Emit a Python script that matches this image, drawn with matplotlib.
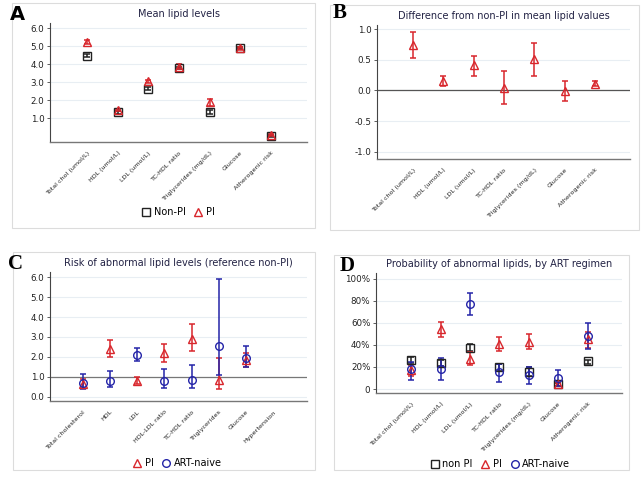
import numpy as np
import matplotlib
matplotlib.use("Agg")
import matplotlib.pyplot as plt
from matplotlib.patches import Rectangle

W, H = 644, 480

BLACK = "#222222"
RED = "#d8262c"
BLUE = "#2424a8"

# ---- panel A: mean lipid levels
a_cats = ["Total chol (umol/L)", "HDL (umol/L)", "LDL (umol/L)", "TC-HDL ratio",
          "Triglycerides (mg/dL)", "Glucose", "Atherogenic risk"]
a_nonpi = [4.47, 1.31, 2.63, 3.78, 1.33, 4.88, 0.0]
a_nonpi_lo = [4.38, 1.24, 2.56, 3.70, 1.24, 4.82, -0.05]
a_nonpi_hi = [4.56, 1.38, 2.70, 3.86, 1.42, 4.94, 0.05]
a_pi = [5.22, 1.45, 3.05, 3.82, 1.87, 4.88, 0.08]
a_pi_lo = [5.12, 1.38, 2.96, 3.70, 1.65, 4.80, 0.02]
a_pi_hi = [5.32, 1.52, 3.14, 4.02, 2.08, 4.96, 0.14]

# ---- panel B: difference from non-PI
b_diff = [0.75, 0.16, 0.41, 0.04, 0.51, -0.01, 0.11]
b_lo = [0.53, 0.07, 0.24, -0.22, 0.24, -0.17, 0.07]
b_hi = [0.95, 0.23, 0.56, 0.32, 0.78, 0.155, 0.16]

# ---- panel C: risk of abnormal lipid levels
c_cats = ["Total cholesterol", "HDL", "LDL", "HDL-LDL ratio", "TC-HDL ratio",
          "Triglycerides", "Glucose", "Hypertension"]
c_pi = [0.64, 2.38, 0.80, 2.18, 2.90, 0.85, 1.85, np.nan]
c_pi_lo = [0.42, 1.98, 0.62, 1.73, 2.31, 0.37, 1.47, np.nan]
c_pi_hi = [0.90, 2.85, 0.97, 2.65, 3.65, 1.95, 2.18, np.nan]
c_naive = [0.70, 0.77, 2.09, 0.77, 0.84, 2.56, 1.93, np.nan]
c_naive_lo = [0.39, 0.47, 1.79, 0.42, 0.42, 1.09, 1.49, np.nan]
c_naive_hi = [1.12, 1.31, 2.43, 1.40, 1.61, 5.93, 2.55, np.nan]

# ---- panel D: probability of abnormal lipids (%)
d_nonpi = [26.5, 23.5, 37.5, 19.5, 15.5, 4.3, 25.0]
d_nonpi_lo = [24.0, 21.0, 34.3, 16.4, 11.9, 2.7, 22.8]
d_nonpi_hi = [29.0, 26.0, 40.7, 23.0, 19.5, 5.8, 26.7]
d_pi = [17.0, 54.0, 27.5, 40.7, 42.9, 4.3, 45.0]
d_pi_lo = [11.5, 47.0, 21.6, 34.6, 36.2, 3.0, 36.8]
d_pi_hi = [21.6, 61.0, 33.7, 47.4, 49.8, 5.5, 52.0]
d_naive = [18.0, 18.5, 77.0, 15.2, 12.8, 10.0, 48.3]
d_naive_lo = [8.0, 8.0, 67.0, 6.4, 4.9, 3.0, 36.5]
d_naive_hi = [24.6, 27.7, 87.0, 23.0, 20.0, 17.0, 59.6]

plt.rcParams["font.family"] = ["DejaVu Sans"]

fig = plt.figure(figsize=(W / 100, H / 100), dpi=100)
fig.patch.set_facecolor("white")


def px_axes(x0, y0, x1, y1):
    # pixel box (top-left origin) -> figure axes
    return fig.add_axes([x0 / W, 1 - y1 / H, (x1 - x0) / W, (y1 - y0) / H])


def box(x0, y0, x1, y1, color="#dcdcdc"):
    fig.patches.append(Rectangle((x0 / W, 1 - y1 / H), (x1 - x0) / W, (y1 - y0) / H,
                                 transform=fig.transFigure, fill=False,
                                 edgecolor=color, lw=0.8))


def style(ax, title, cats, ylim, yticks, yticklabels, xlim):
    ax.set_xlim(*xlim)
    ax.set_ylim(*ylim)
    ax.set_yticks(yticks)
    ax.set_yticklabels(yticklabels, fontsize=6.3, color="#222222")
    ax.set_xticks(np.arange(1, len(cats) + 1))
    ax.set_xticklabels(cats, rotation=45, ha="right", rotation_mode="anchor",
                       fontsize=4.6, color="#222222")
    ax.tick_params(axis="y", length=2.5, width=0.6, pad=1.5, color="#444444")
    ax.tick_params(axis="x", length=0, pad=6)
    for s in ["top", "right"]:
        ax.spines[s].set_visible(False)
    ax.spines["left"].set_color("#444444")
    ax.spines["left"].set_linewidth(0.8)
    ax.spines["bottom"].set_color("#777777")
    ax.spines["bottom"].set_linewidth(1.0)
    ax.yaxis.grid(True, color="#e8eef3", lw=0.8)
    ax.set_axisbelow(True)
    ax.set_title(title, fontsize=7, color="#222244", pad=4)


def series(ax, x, y, lo, hi, color, marker, ms=5.5, lw=1.1):
    y = np.asarray(y, float)
    lo = np.asarray(lo, float)
    hi = np.asarray(hi, float)
    err = np.vstack([y - lo, hi - y])
    ax.errorbar(x, y, yerr=err, fmt="none", ecolor=color, elinewidth=lw,
                capsize=2, capthick=lw, zorder=3)
    h, = ax.plot(x, y, linestyle="none", marker=marker, ms=ms, mfc="none",
                 mec=color, mew=1.0, zorder=4)
    return h


# outer panel frames
box(12, 3, 315, 228)
box(330, 5, 639, 230)
box(13, 252, 315, 470)
box(334, 255, 629, 470)

# panel A
axA = px_axes(50, 23, 307, 142)
xa = np.arange(1, len(a_cats) + 1)
style(axA, "Mean lipid levels", a_cats, (-0.33, 6.28), [1, 2, 3, 4, 5, 6],
      ["1.0", "2.0", "3.0", "4.0", "5.0", "6.0"], (-0.2, 8.17))
hA1 = series(axA, xa, a_nonpi, a_nonpi_lo, a_nonpi_hi, BLACK, "s")
hA2 = series(axA, xa, a_pi, a_pi_lo, a_pi_hi, RED, "^")
fig.legend([hA1, hA2], ["Non-PI", "PI"], loc="center", ncol=2,
           bbox_to_anchor=(178 / W, 1 - 212 / H), frameon=False, fontsize=7,
           handletextpad=0.3, columnspacing=0.8, handlelength=1.0)
fig.text(10 / W, 1 - 15 / H, "A", fontsize=14, fontweight="bold", va="center")

# panel B
axB = px_axes(377, 25, 630, 159)
style(axB, "Difference from non-PI in mean lipid values", a_cats, (-1.12, 1.07),
      [-1, -0.5, 0, 0.5, 1], ["-1.0", "-0.5", "0.0", "0.5", "1.0"], (-0.18, 8.15))
axB.axhline(0, color="#555555", lw=0.9, zorder=2)
series(axB, xa, b_diff, b_lo, b_hi, RED, "^", ms=6)
fig.text(333 / W, 1 - 13 / H, "B", fontsize=15, fontweight="bold", va="center",
         family="Liberation Serif")

# panel C
axC = px_axes(50, 272, 307, 401)
xc = np.arange(1, len(c_cats) + 1)
style(axC, "Risk of abnormal lipid levels (reference non-PI)", c_cats, (-0.22, 6.27),
      [0, 1, 2, 3, 4, 5, 6], ["0.0", "1.0", "2.0", "3.0", "4.0", "5.0", "6.0"], (-0.2, 9.23))
axC.axhline(1, color="#777777", lw=0.9, zorder=2)
hC1 = series(axC, xc, c_pi, c_pi_lo, c_pi_hi, RED, "^")
hC2 = series(axC, xc, c_naive, c_naive_lo, c_naive_hi, BLUE, "o")
fig.legend([hC1, hC2], ["PI", "ART-naive"], loc="center", ncol=2,
           bbox_to_anchor=(177 / W, 1 - 463 / H), frameon=False, fontsize=7,
           handletextpad=0.3, columnspacing=0.8, handlelength=1.0)
fig.text(8 / W, 1 - 264 / H, "C", fontsize=15, fontweight="bold", va="center",
         family="Liberation Serif")

# panel D
axD = px_axes(376, 273, 622, 393)
style(axD, "Probability of abnormal lipids, by ART regimen", a_cats, (-3.6, 105),
      [0, 20, 40, 60, 80, 100], ["0", "20%", "40%", "60%", "80%", "100%"], (-0.2, 8.17))
hD1 = series(axD, xa, d_nonpi, d_nonpi_lo, d_nonpi_hi, BLACK, "s")
hD2 = series(axD, xa, d_pi, d_pi_lo, d_pi_hi, RED, "^")
hD3 = series(axD, xa, d_naive, d_naive_lo, d_naive_hi, BLUE, "o")
fig.legend([hD1, hD2, hD3], ["non PI", "PI", "ART-naive"], loc="center", ncol=3,
           bbox_to_anchor=(500 / W, 1 - 464 / H), frameon=False, fontsize=7,
           handletextpad=0.3, columnspacing=0.8, handlelength=1.0)
fig.text(340 / W, 1 - 266 / H, "D", fontsize=15, fontweight="bold", va="center",
         family="Liberation Serif")

fig.savefig("out.png", dpi=100, facecolor="white")
